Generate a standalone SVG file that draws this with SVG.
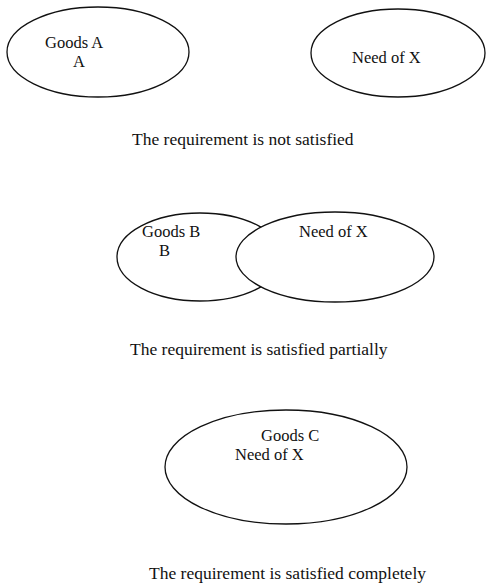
<svg xmlns="http://www.w3.org/2000/svg" width="486" height="587" viewBox="0 0 486 587">
  <style>
    .set { fill: none; stroke: #111; stroke-width: 1.3; }
    .front { fill: #fff; }
    .lbl { font-family: "Liberation Serif", "Times New Roman", serif; font-size: 16.5px; fill: #111; }
    .cap { font-family: "Liberation Serif", "Times New Roman", serif; font-size: 17.5px; fill: #111; }
  </style>
  <rect width="486" height="587" fill="#fff"/>

  <!-- Case 1: disjoint sets -->
  <g id="goods-a">
    <ellipse class="set" cx="98" cy="52" rx="91" ry="45"/>
    <text class="lbl" x="45" y="48">Goods A</text>
    <text class="lbl" x="73" y="67">A</text>
  </g>
  <g id="need-x-1">
    <ellipse class="set" cx="398" cy="53" rx="87" ry="44"/>
    <text class="lbl" x="352" y="63">Need of X</text>
  </g>
  <text id="caption-1" class="cap" x="132" y="145">The requirement is not satisfied</text>

  <!-- Case 2: overlapping sets (the need set is drawn over the goods set) -->
  <g id="goods-b">
    <ellipse class="set" cx="200" cy="257" rx="83" ry="44"/>
    <text class="lbl" x="142" y="237">Goods B</text>
    <text class="lbl" x="159" y="256">B</text>
  </g>
  <g id="need-x-2">
    <ellipse class="set front" cx="335" cy="257" rx="99" ry="45"/>
    <text class="lbl" x="299" y="237">Need of X</text>
  </g>
  <text id="caption-2" class="cap" x="130" y="355">The requirement is satisfied partially</text>

  <!-- Case 3: coinciding sets -->
  <g id="goods-c">
    <ellipse class="set" cx="286" cy="467" rx="121" ry="57"/>
    <text class="lbl" x="261" y="441">Goods C</text>
    <text class="lbl" x="235" y="460">Need of X</text>
  </g>
  <text id="caption-3" class="cap" x="149" y="579">The requirement is satisfied completely</text>

  <g id="connectors"/>
</svg>
